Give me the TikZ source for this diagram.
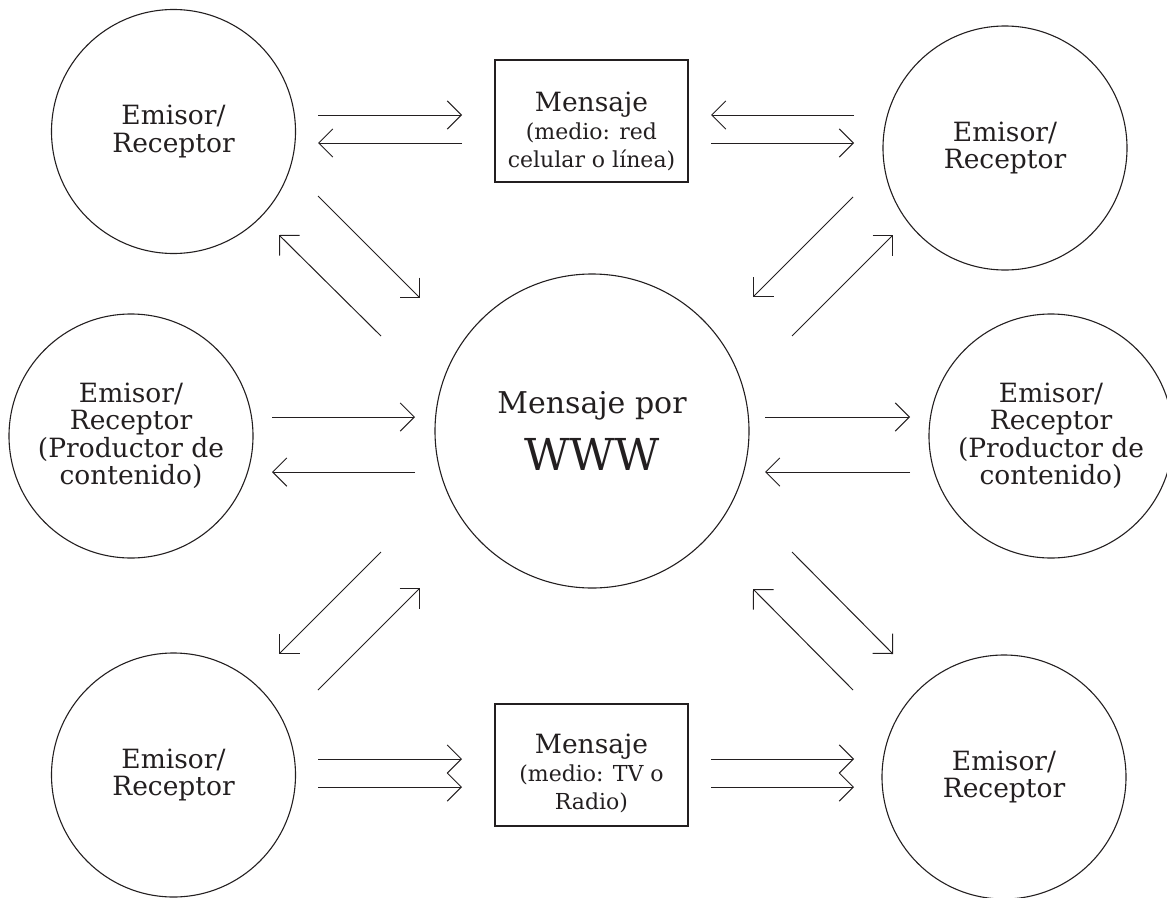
\documentclass[tikz,border=0pt]{standalone}
\usepackage{fontspec}
\setmainfont{DejaVu Serif}
\usetikzlibrary{arrows.meta}
\definecolor{ink}{HTML}{231F20}
\newcommand\fsMain{\fontsize{26.5}{27.5}\selectfont}
\newcommand\fsSmall{\fontsize{22}{28}\selectfont}
\newcommand\conn[3]{\coordinate (#1s) at (#2); \coordinate (#1e) at (#3); \draw[arr] (#1s) -- (#1e);}
\begin{document}
\begin{tikzpicture}[x=1pt,y=-1pt,
  circ/.style={circle,draw=ink,line width=1.1pt,inner sep=0pt,minimum size=244pt,
    align=center,text=ink,font=\fsMain},
  bigcirc/.style={circle,draw=ink,line width=1.1pt,inner sep=0pt,minimum size=314pt,
    align=center,text=ink,font=\fontsize{30}{57}\selectfont},
  msgbox/.style={rectangle,draw=ink,line width=1.1pt,inner sep=0pt,minimum width=193pt,minimum height=122pt},
  boxtxt/.style={align=center,text=ink,inner sep=0pt,font=\fsSmall},
  arr/.style={draw=ink,line width=1pt,-{Straight Barb[angle=90:20pt,line width=1pt]}}
]
\useasboundingbox (0,0) rectangle (1167,897);
\clip (0,0) rectangle (1167,897);

% circles
\node[circ] (tl) at (173.5,131.5) {Emisor/\\Receptor};
\node[circ] (tr) at (1005,148) {Emisor/\\Receptor};
\node[circ] (ml) at (131,436) {Emisor/\\Receptor\\(Productor de\\contenido)};
\node[circ] (mr) at (1051,436) {Emisor/\\Receptor\\(Productor de\\contenido)};
\node[circ] (bl) at (173.5,775) {Emisor/\\Receptor};
\node[circ] (br) at (1004,777) {Emisor/\\Receptor};
\node[bigcirc] (www) at (592,431) {Mensaje por\\\fontsize{44}{57}\selectfont WWW};

% message boxes
\node[msgbox] (m1) at (591.5,121) {};
\node[boxtxt] (m1t) at (591.5,131) {\fsMain Mensaje\\(medio: red\\celular o línea)};
\node[msgbox] (m2) at (591.5,765) {};
\node[boxtxt] (m2t) at (591.5,773) {\fsMain Mensaje\\(medio: TV o\\Radio)};

% top pairs
\conn{a1}{318,115}{462,115}
\conn{a2}{462,143}{318,143}
\conn{a3}{854,115}{711,115}
\conn{a4}{711,143}{854,143}
% top diagonals
\conn{a5}{318,196}{420,298}
\conn{a6}{381,336}{279,235}
\conn{a7}{853,197}{753,297}
\conn{a8}{792,336}{893,235}
% middle pairs
\conn{a9}{272,417}{415,417}
\conn{a10}{415,472}{272,472}
\conn{a11}{765,417}{910,417}
\conn{a12}{910,472}{765,472}
% bottom diagonals
\conn{a13}{381,552}{279,654}
\conn{a14}{318,690}{420,588}
\conn{a15}{792,552}{893,654}
\conn{a16}{853,690}{753,589}
% bottom pairs
\conn{a17}{318,759}{462,759}
\conn{a18}{318,787}{462,787}
\conn{a19}{711,759}{854,759}
\conn{a20}{711,787}{854,787}
\end{tikzpicture}
\end{document}
